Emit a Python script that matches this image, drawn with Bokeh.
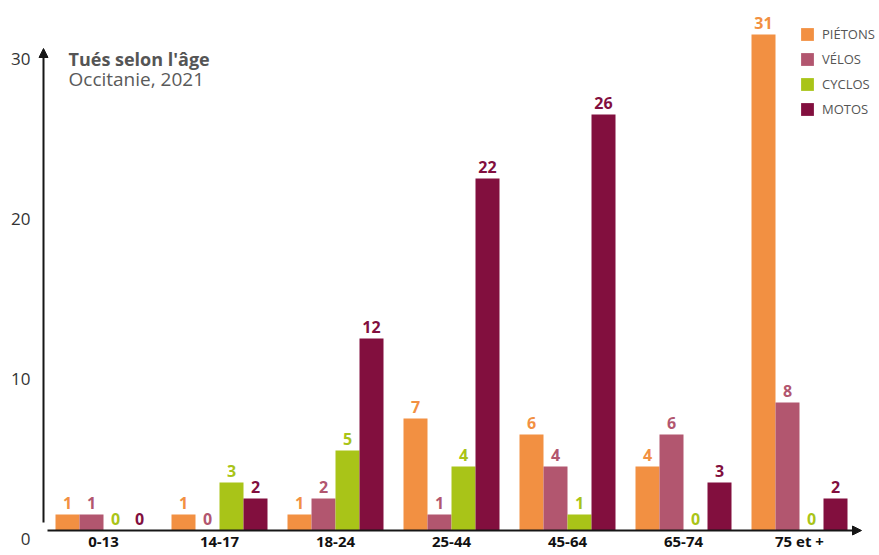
from bokeh.plotting import figure
from bokeh.models import (FactorRange, Range1d, FixedTicker, Arrow, NormalHead,
                          Legend, LegendItem, ColumnDataSource, LinearAxis)
from bokeh.transform import dodge
from bokeh.core.properties import value
from bokeh.embed import file_html
from bokeh.resources import INLINE

# ---- data ----
age_groups = ["0-13", "14-17", "18-24", "25-44", "45-64", "65-74", "75 et +"]
pietons = [1, 1, 1, 7, 6, 4, 31]
velos = [1, 0, 2, 1, 4, 6, 8]
cyclos = [0, 3, 5, 4, 1, 0, 0]
motos = [0, 2, 12, 22, 26, 3, 2]
series_keys = ["pietons", "velos", "cyclos", "motos"]
series_names = ["PIÉTONS", "VÉLOS", "CYCLOS", "MOTOS"]
series_colors = ["#F29042", "#B2566F", "#A9C418", "#820F3E"]
y_ticks = [0, 10, 20, 30]
title_text = "Tués selon l'âge"
subtitle_text = "Occitanie, 2021"

FONT = "Open Sans"

src = ColumnDataSource(dict(
    age=age_groups,
    pietons=pietons, velos=velos, cyclos=cyclos, motos=motos,
    pietons_lbl=[str(v) for v in pietons],
    velos_lbl=[str(v) for v in velos],
    cyclos_lbl=[str(v) for v in cyclos],
    motos_lbl=[str(v) for v in motos],
))

CAT = 116.0          # px per category
pad = 20 / CAT
p = figure(width=879, height=555,
           x_range=FactorRange(factors=age_groups, range_padding=pad,
                               range_padding_units="absolute"),
           y_range=Range1d(-0.5, 33.125),
           y_axis_location=None,
           output_backend="svg", toolbar_location=None,
           min_border_left=25, min_border_right=2,
           min_border_top=0, min_border_bottom=17)
p.outline_line_color = None
p.grid.visible = False
p.background_fill_color = "white"

# x axis (category labels)
xa = p.xaxis[0]
xa.axis_line_color = None
xa.major_tick_line_color = None
xa.minor_tick_line_color = None
xa.major_tick_out = 0
xa.major_tick_in = 0
xa.major_label_standoff = -8
xa.major_label_text_font = FONT
xa.major_label_text_font_style = "bold"
xa.major_label_text_font_size = "15px"
xa.major_label_text_color = "#111111"

# y axis: labels sit half a unit below their value, as in the reference
p.extra_y_ranges = {"lbl": Range1d(0.0, 33.625)}
ya = LinearAxis(y_range_name="lbl", ticker=FixedTicker(ticks=y_ticks))
ya.axis_line_color = None
ya.major_tick_line_color = None
ya.minor_tick_line_color = None
ya.major_tick_out = 0
ya.major_tick_in = 0
ya.major_label_standoff = -5
ya.major_label_text_font = FONT
ya.major_label_text_font_size = "17px"
ya.major_label_text_color = "#333333"
p.add_layout(ya, "left")

# bars + value labels
w = 24 / CAT
offsets = [-1.5 * w, -0.5 * w, 0.5 * w, 1.5 * w]
items = []
for key, name, col, off in zip(series_keys, series_names, series_colors, offsets):
    r = p.vbar(x=dodge("age", off, range=p.x_range), top=key, width=w,
               source=src, fill_color=col, line_color=None)
    p.text(x=dodge("age", off, range=p.x_range), y=key, text=key + "_lbl",
           source=src, text_align="center", text_baseline="alphabetic",
           y_offset=-12, text_font=value(FONT), text_font_style="bold",
           text_font_size="16px", text_color=col)
    items.append(LegendItem(label=name, renderers=[r]))

legend = Legend(items=items, location=(774, 420), glyph_width=16, glyph_height=16,
                label_height=16, label_standoff=7, spacing=7, padding=0, margin=0,
                border_line_color=None, background_fill_alpha=0,
                label_text_font=FONT, label_text_font_size="13px",
                label_text_color="#555555")
p.add_layout(legend)

# axis arrows
ax_x = -2 / CAT
p.add_layout(Arrow(x_start=ax_x + 4 / CAT, y_start=0, x_end=7 + 4 / CAT, y_end=0,
                   line_color="#161616", line_width=2,
                   end=NormalHead(size=9, fill_color="#161616", line_color="#161616",
                                  line_width=1)))
p.add_layout(Arrow(x_start=ax_x, y_start=0.5, x_end=ax_x, y_end=30.125,
                   line_color="#161616", line_width=2,
                   end=NormalHead(size=9, fill_color="#161616", line_color="#161616",
                                  line_width=1)))

# title
p.text(x=[23 / CAT], y=[(530 - 58) / 16.0], text=[title_text],
       text_baseline="middle", text_align="left", text_font=value(FONT),
       text_font_style="bold", text_font_size="18px", text_color="#555555")
p.text(x=[23 / CAT], y=[(530 - 78) / 16.0], text=[subtitle_text],
       text_baseline="middle", text_align="left", text_font=value(FONT),
       text_font_size="19px", text_color="#5a5a5a")

open("out.html", "w").write(file_html(p, INLINE))
